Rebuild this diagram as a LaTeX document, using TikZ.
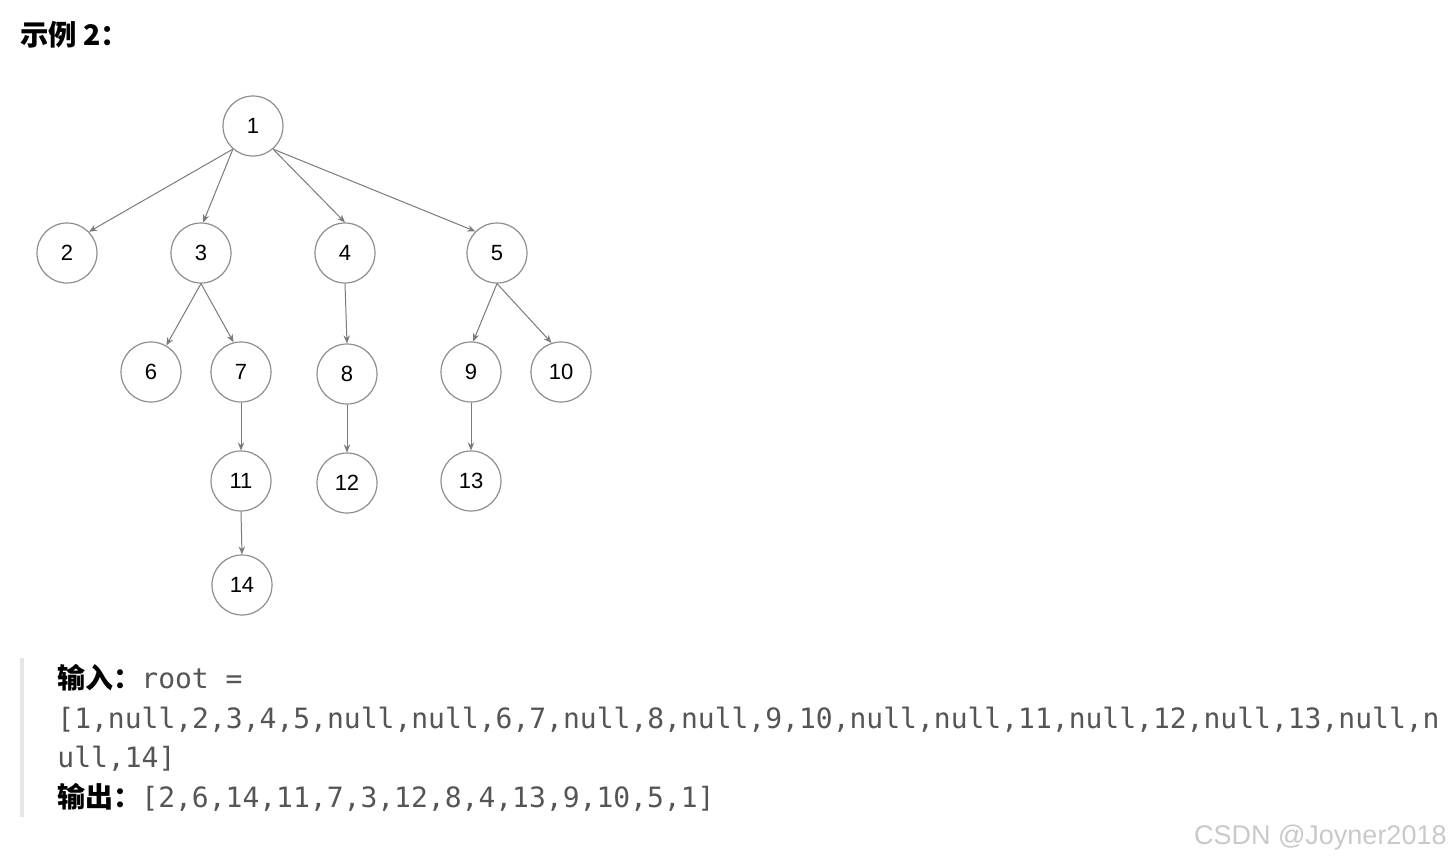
\documentclass[tikz,border=0pt]{standalone}
\usepackage{fontspec}
\setmainfont{Liberation Sans}
\newfontfamily\cjk{Noto Sans CJK SC}
\newfontfamily\mono{DejaVu Sans Mono}
\usetikzlibrary{arrows.meta}
\definecolor{circ}{HTML}{8E8E8E}
\definecolor{edgec}{HTML}{7A7A7A}
\definecolor{codec}{HTML}{555555}
\definecolor{barc}{HTML}{E6E6E6}
\definecolor{wm}{HTML}{C9C9C9}
\tikzset{
  tn/.style={circle, draw=circ, line width=0.6pt, minimum size=30pt, inner sep=0pt, font=\fontsize{11}{13}\selectfont},
  ed/.style={draw=edgec, line width=0.5pt, -{Stealth[length=4pt,width=3.2pt]}},
  codeline/.style={anchor=base west, inner sep=0pt, text=codec, font=\mono\fontsize{14}{16}\selectfont},
}
\begin{document}
\begin{tikzpicture}[x=0.5pt,y=-0.5pt]
\useasboundingbox (0,0) rectangle (1452,862);
% title
\node[anchor=base west, inner sep=0pt, font=\cjk\bfseries\fontsize{14.2}{16}\selectfont] (title) at (20,46) {示例 2：};
% tree
\node[tn] (n1) at (253,126) {1};
\node[tn] (n2) at (67,253) {2};
\node[tn] (n3) at (201,253) {3};
\node[tn] (n4) at (345,253) {4};
\node[tn] (n5) at (497,253) {5};
\node[tn] (n6) at (151,372) {6};
\node[tn] (n7) at (241,372) {7};
\node[tn] (n8) at (347,374) {8};
\node[tn] (n9) at (471,372) {9};
\node[tn] (n10) at (561,372) {10};
\node[tn] (n11) at (241,481) {11};
\node[tn] (n12) at (347,483) {12};
\node[tn] (n13) at (471,481) {13};
\node[tn] (n14) at (242,585) {14};
\draw[ed] (n1.229) -- (n2.44);
\draw[ed] (n1.229) -- (n3.86);
\draw[ed] (n1.311) -- (n4.north);
\draw[ed] (n1.311) -- (n5.135);
\draw[ed] (n3.south) -- (n6.60);
\draw[ed] (n3.south) -- (n7.104);
\draw[ed] (n4.south) -- (n8.north);
\draw[ed] (n5.south) -- (n9.86);
\draw[ed] (n5.south) -- (n10.108);
\draw[ed] (n7.south) -- (n11.north);
\draw[ed] (n8.south) -- (n12.north);
\draw[ed] (n9.south) -- (n13.north);
\draw[ed] (n11.south) -- (n14.north);
% quote block
\fill[barc] (20,658) rectangle (24,817);
\node[codeline] (l1) at (57,688) {{\cjk\bfseries\color{black}输入：}root =};
\node[codeline] (l2) at (57,728) {[1,null,2,3,4,5,null,null,6,7,null,8,null,9,10,null,null,11,null,12,null,13,null,n};
\node[codeline] (l3) at (57,767) {ull,14]};
\node[codeline] (l4) at (57,807) {{\cjk\bfseries\color{black}输出：}[2,6,14,11,7,3,12,8,4,13,9,10,5,1]};
% watermark
\node[anchor=east, inner sep=0pt, text=wm, font=\fontsize{13.5}{15}\selectfont] (wmk) at (1447,838) {CSDN @Joyner2018};
\end{tikzpicture}
\end{document}
